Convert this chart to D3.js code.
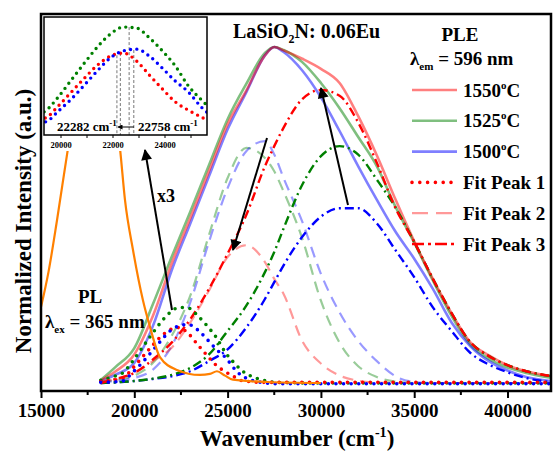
<!DOCTYPE html>
<html>
<head>
<meta charset="utf-8">
<script src="https://cdn.jsdelivr.net/npm/d3@7"></script>
<style>
body{margin:0;background:#fff;}
text{font-family:"Liberation Serif","Times New Roman",serif;font-weight:bold;fill:#000;}
</style>
</head>
<body>
<script>
//wavenumber grid for PLE spectra and fit peaks 2 and 3
var wn = [18200,19000,20000,21000,22000,23000,24000,25000,26000,27000,27500,28000,29000,30000,31000,32000,33000,34000,35000,36000,37000,38000,39000,40000,41000,42300];

//PLE spectra, three temperatures
var ple1550 = [.008,.035,.085,.20,.355,.49,.63,.77,.87,.975,1.0,.99,.965,.935,.893,.794,.677,.546,.422,.31,.208,.122,.082,.053,.035,.021];
var ple1525 = [.009,.048,.104,.235,.375,.51,.648,.785,.89,.982,1.0,.991,.955,.893,.818,.732,.645,.524,.418,.305,.2,.115,.072,.046,.03,.016];
var ple1500 = [.006,.025,.06,.17,.335,.475,.615,.755,.865,.975,1.0,.985,.93,.85,.75,.645,.545,.45,.37,.28,.18,.11,.065,.037,.018,.006];

//fit peak 2
var p2_1550 = [.005,.012,.03,.065,.105,.18,.275,.375,.41,.36,.31,.265,.125,.058,.022,.007,.001,0,0,0,0,0,0,0,0,0];
var p2_1525 = [.003,.009,.022,.06,.14,.26,.44,.61,.70,.67,.63,.57,.43,.245,.12,.05,.018,.004,0,0,0,0,0,0,0,0];
var p2_1500 = [.002,.006,.015,.04,.11,.24,.42,.58,.69,.72,.68,.61,.48,.325,.21,.125,.065,.02,.003,0,0,0,0,0,0,0];

//fit peak 3
var p3_1550 = [0,.012,.03,.07,.12,.19,.28,.385,.50,.645,.705,.76,.845,.872,.855,.775,.655,.52,.42,.31,.208,.122,.08,.053,.035,.021];
var p3_1525 = [0,.002,.006,.013,.024,.045,.085,.155,.23,.33,.39,.46,.59,.675,.705,.68,.605,.522,.42,.31,.208,.122,.08,.053,.035,.021];
var p3_1500 = [0,.002,.006,.012,.02,.035,.065,.10,.165,.25,.30,.35,.435,.495,.52,.52,.475,.395,.315,.225,.155,.09,.055,.032,.015,.003];

//fit peak 1 (also shown in the inset)
var p1Wn = [18200,18800,19400,19900,20400,20900,21400,21900,22400,22900,23400,23900,24400,24900,25400,25700,26200,26800,27600,30000,35000,42300];
var p1_1550 = [.004,.008,.015,.043,.075,.107,.137,.158,.165,.147,.114,.082,.052,.033,.017,.008,.004,.002,.002,.002,.002,.002];
var p1_1525 = [.008,.018,.031,.064,.103,.142,.179,.209,.225,.223,.200,.170,.135,.089,.057,.040,.022,.01,.002,0,0,0];
var p1_1500 = [.002,.003,.006,.031,.059,.091,.124,.154,.170,.174,.158,.130,.100,.075,.040,.024,.010,.002,-.002,-.002,-.002,-.002];

//PL emission
var plWn = [15000,15400,15860,16450,17000,17840,18600,19230,19500,19930,20460,20840,21375,22285,23518,24054,24430,24860,25286,27107,30000];
var plVal = [.226,.33,.485,.70,.88,1.0,.90,.70,.545,.396,.247,.167,.077,.039,.024,.027,.035,.022,.01,.003,0];

//ticks
var xMajor = [15000,20000,25000,30000,35000,40000];
var xMinor = [17500,22500,27500,32500,37500,42500];
var insetTicks = [20000,22000,24000];
var insetMinor = [20000,21000,22000,23000,24000,25000];
//inset guide lines: wavenumber and top value
var guideWn = [22150,22282,22620,22800];
var guideTop = [.160,.165,.225,.172];

var legendLabels = ['1550','1525','1500','Fit Peak 1','Fit Peak 2','Fit Peak 3'];

var width = 553, height = 451;
var svg = d3.select('body').append('svg')
    .attr('width', width)
    .attr('height', height);

var x = d3.scaleLinear().domain([15000, 42330]).range([41, 551]);
var y = d3.scaleLinear().domain([-0.0238, 1.0982]).range([391, 14]);

svg.append('clipPath').attr('id', 'plotClip')
    .append('rect').attr('x', 41).attr('y', 14).attr('width', 510).attr('height', 377);

var red = '#ff0000', green = '#008000', blue = '#0000ff';

function series(xs, ys){
    return xs.map(function(d, i){ return [d, ys[i]]; });
}

var line = d3.line()
    .x(function(d){ return x(d[0]); })
    .y(function(d){ return y(d[1]); })
    .curve(d3.curveMonotoneX);

var plot = svg.append('g').attr('clip-path', 'url(#plotClip)');

//PLE solid lines
[[ple1525, green], [ple1500, blue], [ple1550, red]].forEach(function(s){
    plot.append('path')
        .attr('d', line(series(wn, s[0])))
        .attr('fill', 'none')
        .attr('stroke', s[1])
        .attr('stroke-opacity', 0.5)
        .attr('stroke-width', 2.6);
});

//fit peak 2 dashed
[[p2_1525, green], [p2_1500, blue], [p2_1550, red]].forEach(function(s){
    plot.append('path')
        .attr('d', line(series(wn, s[0])))
        .attr('fill', 'none')
        .attr('stroke', s[1])
        .attr('stroke-opacity', 0.4)
        .attr('stroke-width', 2.2)
        .attr('stroke-dasharray', '11,7');
});

//fit peak 3 dash-dot
[[p3_1500, blue], [p3_1525, green], [p3_1550, red]].forEach(function(s){
    plot.append('path')
        .attr('d', line(series(wn, s[0])))
        .attr('fill', 'none')
        .attr('stroke', s[1])
        .attr('stroke-width', 2.4)
        .attr('stroke-dasharray', '9,4,2,4');
});

//fit peak 1 dotted
[[p1_1525, green], [p1_1550, red], [p1_1500, blue]].forEach(function(s){
    plot.append('path')
        .attr('d', line(series(p1Wn, s[0])))
        .attr('fill', 'none')
        .attr('stroke', s[1])
        .attr('stroke-width', 3.6)
        .attr('stroke-linecap', 'round')
        .attr('stroke-dasharray', '0,7.6');
});

//PL curve
plot.append('path')
    .attr('d', line(series(plWn, plVal)))
    .attr('fill', 'none')
    .attr('stroke', '#ff8000')
    .attr('stroke-width', 2.2);

//x axis ticks
var xAxis = svg.append('g')
    .attr('transform', 'translate(0,391)')
    .call(d3.axisBottom(x).tickValues(xMajor).tickSize(7).tickPadding(6).tickFormat(d3.format('d')));
xAxis.select('.domain').remove();
xAxis.selectAll('line').attr('stroke-width', 2);
xAxis.selectAll('text').attr('font-size', 19).attr('font-family', '"Liberation Serif",serif').attr('font-weight', 'bold');
svg.append('g').selectAll('line')
    .data(xMinor.filter(function(d){ return d < 42330; }))
    .enter().append('line')
    .attr('x1', function(d){ return x(d); })
    .attr('x2', function(d){ return x(d); })
    .attr('y1', 391).attr('y2', 395)
    .attr('stroke', '#000').attr('stroke-width', 2);

//inset
var ix = d3.scaleLinear().domain([19346, 25615]).range([44, 207]);
var iy = d3.scaleLinear().domain([-0.0243, 0.2483]).range([135, 17]);
var inset = svg.append('g');
inset.append('rect').attr('x', 43).attr('y', 15).attr('width', 166).attr('height', 136).attr('fill', '#fff');
inset.append('clipPath').attr('id', 'insetClip')
    .append('rect').attr('x', 44).attr('y', 17).attr('width', 163).attr('height', 118);
var iline = d3.line()
    .x(function(d){ return ix(d[0]); })
    .y(function(d){ return iy(d[1]); })
    .curve(d3.curveMonotoneX);
var ig = inset.append('g').attr('clip-path', 'url(#insetClip)');
guideWn.forEach(function(w, i){
    ig.append('line')
        .attr('x1', ix(w)).attr('x2', ix(w))
        .attr('y1', iy(guideTop[i])).attr('y2', 135)
        .attr('stroke', '#777').attr('stroke-width', 1)
        .attr('stroke-dasharray', '3,2');
});
[[p1_1550, red], [p1_1500, blue], [p1_1525, green]].forEach(function(s){
    ig.append('path')
        .attr('d', iline(series(p1Wn, s[0])))
        .attr('fill', 'none')
        .attr('stroke', s[1])
        .attr('stroke-width', 3.4)
        .attr('stroke-linecap', 'round')
        .attr('stroke-dasharray', '0,6.3');
});
inset.append('rect').attr('x', 44).attr('y', 17).attr('width', 163).attr('height', 118)
    .attr('fill', 'none').attr('stroke', '#000').attr('stroke-width', 1.5);
inset.selectAll('.itick').data(insetMinor).enter().append('line')
    .attr('x1', function(d){ return ix(d); }).attr('x2', function(d){ return ix(d); })
    .attr('y1', 135).attr('y2', 138).attr('stroke', '#000').attr('stroke-width', 1);
inset.selectAll('.ilab').data(insetTicks).enter().append('text')
    .attr('x', function(d){ return ix(d); })
    .attr('y', 147.5)
    .attr('text-anchor', 'middle')
    .attr('font-size', 8.5)
    .text(function(d){ return d; });

function cmLabel(g, xp, yp, num){
    var t = g.append('text').attr('x', xp).attr('y', yp).attr('font-size', 13);
    t.append('tspan').text(num + ' cm');
    t.append('tspan').attr('dy', -5).attr('font-size', 9).text('-1');
}
cmLabel(inset, 57, 131, '22282');
cmLabel(inset, 138, 131, '22758');

//arrow marker
var defs = svg.append('defs');
defs.append('marker').attr('id', 'head')
    .attr('viewBox', '0 0 10 10').attr('refX', 9).attr('refY', 5)
    .attr('markerUnits', 'userSpaceOnUse')
    .attr('markerWidth', 13).attr('markerHeight', 11)
    .attr('orient', 'auto')
    .append('path').attr('d', 'M0,0L10,5L0,10Z').attr('fill', '#000');
defs.append('marker').attr('id', 'smallHead')
    .attr('viewBox', '0 0 10 10').attr('refX', 9).attr('refY', 5)
    .attr('markerUnits', 'userSpaceOnUse')
    .attr('markerWidth', 6).attr('markerHeight', 5)
    .attr('orient', 'auto')
    .append('path').attr('d', 'M0,0L10,5L0,10Z').attr('fill', '#000');

inset.append('line').attr('x1', 134).attr('y1', 127).attr('x2', 118).attr('y2', 127)
    .attr('stroke', '#000').attr('stroke-width', 1).attr('marker-end', 'url(#smallHead)');

//big arrows
[[172, 310, 145, 150], [267, 138, 233, 250], [348, 205, 321, 88]].forEach(function(a){
    svg.append('line')
        .attr('x1', a[0]).attr('y1', a[1]).attr('x2', a[2]).attr('y2', a[3])
        .attr('stroke', '#000').attr('stroke-width', 2)
        .attr('marker-end', 'url(#head)');
});

//texts
var title = svg.append('text').attr('x', 233).attr('y', 38).attr('font-size', 20);
title.append('tspan').text('LaSiO');
title.append('tspan').attr('dy', 5).attr('font-size', 12).text('2');
title.append('tspan').attr('dy', -5).text('N: 0.06Eu');

svg.append('text').attr('x', 460).attr('y', 41).attr('text-anchor', 'middle').attr('font-size', 19).text('PLE');
var lem = svg.append('text').attr('x', 410).attr('y', 65).attr('font-size', 19);
lem.append('tspan').text('λ');
lem.append('tspan').attr('dy', 5).attr('font-size', 11).text('em');
lem.append('tspan').attr('dy', -5).text(' = 596 nm');

svg.append('text').attr('x', 78).attr('y', 303).attr('font-size', 19).text('PL');
var lex = svg.append('text').attr('x', 45).attr('y', 328).attr('font-size', 19);
lex.append('tspan').text('λ');
lex.append('tspan').attr('dy', 5).attr('font-size', 11).text('ex');
lex.append('tspan').attr('dy', -5).text(' = 365 nm');

svg.append('text').attr('x', 157).attr('y', 202).attr('font-size', 18).text('x3');

//legend
var legendStyles = [
    {c: red, o: 0.5, w: 2.6, dash: null},
    {c: green, o: 0.5, w: 2.6, dash: null},
    {c: blue, o: 0.5, w: 2.6, dash: null},
    {c: red, o: 1, w: 3.6, dash: '0,7.8', cap: 'round'},
    {c: red, o: 0.4, w: 2.2, dash: '16,8'},
    {c: red, o: 1, w: 2.4, dash: '12,4,3,4'}
];
legendLabels.forEach(function(lab, i){
    var ly = 90 + i * 30.8;
    var st = legendStyles[i];
    svg.append('line')
        .attr('x1', 412).attr('x2', 457).attr('y1', ly).attr('y2', ly)
        .attr('stroke', st.c).attr('stroke-opacity', st.o).attr('stroke-width', st.w)
        .attr('stroke-dasharray', st.dash)
        .attr('stroke-linecap', st.cap || 'butt');
    var t = svg.append('text').attr('x', 463).attr('y', ly + 6.5).attr('font-size', 19);
    if (i < 3) {
        t.append('tspan').text(lab);
        t.append('tspan').attr('dy', -8).attr('font-size', 11).text('o');
        t.append('tspan').attr('dy', 8).text('C');
    } else {
        t.text(lab);
    }
});

//axis titles
var xt = svg.append('text').attr('x', 297).attr('y', 446).attr('text-anchor', 'middle').attr('font-size', 23);
xt.append('tspan').text('Wavenumber (cm');
xt.append('tspan').attr('dy', -9).attr('font-size', 14).text('-1');
xt.append('tspan').attr('dy', 9).text(')');

svg.append('text')
    .attr('transform', 'translate(31,221) rotate(-90)')
    .attr('text-anchor', 'middle')
    .attr('font-size', 23)
    .text('Normalized Intensity (a.u.)');

//frame
svg.append('rect').attr('x', 41).attr('y', 14).attr('width', 510).attr('height', 377)
    .attr('fill', 'none').attr('stroke', '#000').attr('stroke-width', 2.5);
</script>
</body>
</html>
